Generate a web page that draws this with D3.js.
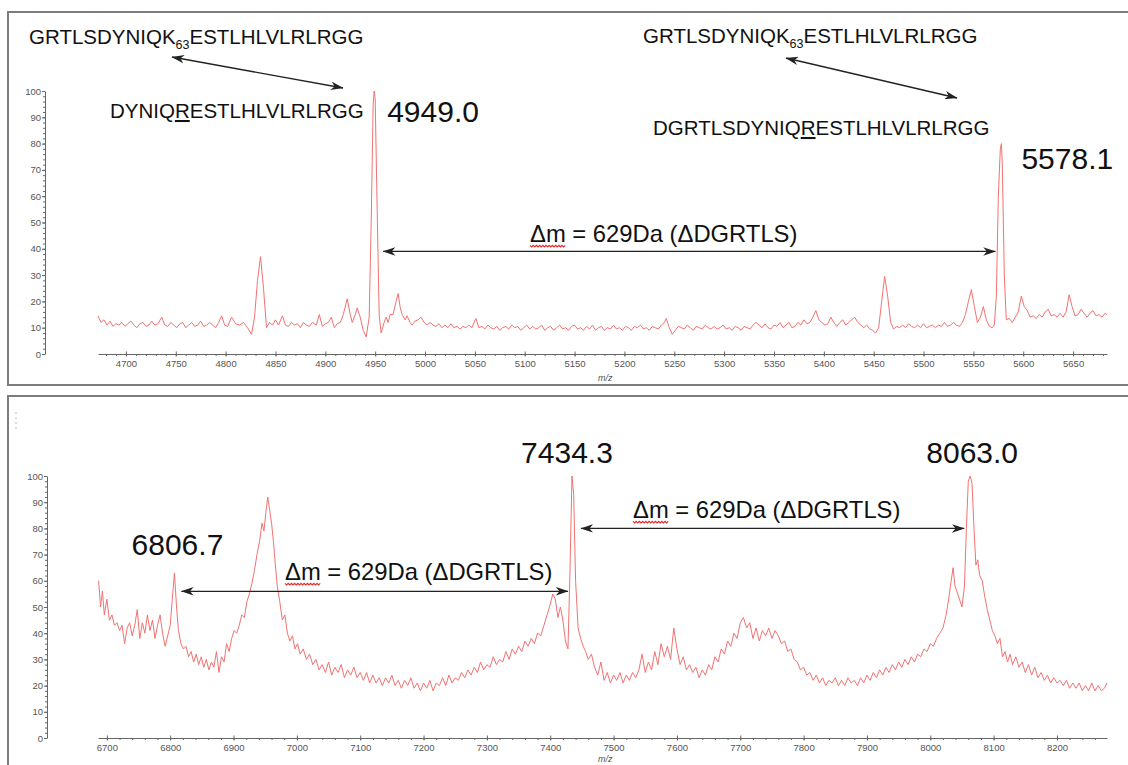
<!DOCTYPE html>
<html>
<head>
<meta charset="utf-8">
<script src="https://cdn.jsdelivr.net/npm/d3@7"></script>
<style>
  html, body { margin: 0; padding: 0; background: #fff; }
  svg { display: block; font-family: "Liberation Sans", Arial, Helvetica, sans-serif; }
</style>
</head>
<body>
<svg id="chart" width="1128" height="765"></svg>
<script>
// ---- MALDI spectra: [m/z, relative intensity %] ----
const topSpectrum = [
  [4672,14.5],[4675,12],[4678,13],[4681,11],[4684,12.5],[4687,10.5],[4690,11.5],[4693,11],[4696,12],[4699,10.5],
  [4702,11.5],[4705,12.5],[4708,11],[4711,10],[4714,11.5],[4717,12],[4720,10.5],[4723,11],[4726,12.5],[4729,11],
  [4732,11.5],[4736,14],[4739,11],[4742,10.5],[4745,12],[4748,11],[4751,10],[4754,11.5],[4757,12],[4760,10],
  [4763,11],[4766,12],[4769,10.5],[4772,11],[4775,12.5],[4778,10.5],[4781,11],[4784,12],[4787,11],[4790,10],
  [4793,12],[4796,14.5],[4799,11],[4802,10.5],[4806,14],[4810,11.5],[4814,11],[4818,12],[4822,10],[4826,7.5],
  [4829,14],[4832,28],[4835,37],[4838,25],[4841,10],[4844,12],[4847,11],[4850,13],[4853,11],[4857,14.5],
  [4860,11],[4863,10.5],[4866,12],[4869,11],[4872,11.5],[4875,10],[4878,12],[4881,11],[4884,10.5],[4887,12],
  [4891,11],[4894,15],[4897,10.5],[4900,11.5],[4903,12],[4906,14],[4909,10],[4912,11.5],[4915,12],[4918,15],
  [4922,21],[4925,15],[4927,12],[4930,15],[4932,17.5],[4935,14],[4938,9],[4941,6.5],[4944,14],[4946,50],
  [4948,95],[4949.0,100],[4950,97],[4952,55],[4954,15],[4956,8],[4959,12],[4961,14],[4963,12],[4965,15],
  [4968,15],[4971,20],[4973,23],[4975,18],[4977,15],[4980,13],[4982,14.5],[4985,12],[4987,11],[4990,12.5],
  [4993,13],[4996,14],[4999,12],[5002,11],[5005,12],[5008,11],[5011,10.5],[5014,11.5],[5017,10],[5020,11],
  [5023,10],[5026,11.5],[5029,10],[5032,10.5],[5035,9.5],[5038,10.5],[5041,10],[5044,11],[5047,10],[5051,13.5],
  [5054,10],[5057,10.5],[5060,9.5],[5063,11],[5066,10],[5069,9.5],[5072,10.5],[5075,9],[5078,10],[5081,10.5],
  [5084,9.5],[5087,11],[5090,10],[5093,10.5],[5096,9],[5099,10],[5102,11],[5105,9.5],[5108,10.5],[5111,9.5],
  [5114,10],[5117,11],[5120,9],[5123,10],[5126,10.5],[5129,9],[5132,10],[5135,11],[5138,9.5],[5141,10],
  [5144,9],[5147,10.5],[5150,11],[5153,9.5],[5156,10],[5159,9],[5162,10.5],[5165,9.5],[5168,11],[5171,9],
  [5174,10],[5177,10.5],[5180,9],[5183,10],[5186,9.5],[5189,11],[5192,9.5],[5195,10],[5198,9],[5201,10.5],
  [5204,10],[5207,9],[5210,10.5],[5213,10],[5216,11],[5219,9.5],[5222,10],[5225,9],[5228,10.5],[5231,10],
  [5234,9.5],[5237,11],[5240,12],[5242,13.5],[5245,10],[5248,7.5],[5251,9],[5254,10.5],[5257,10],[5260,9.5],
  [5263,11],[5266,10],[5269,9],[5272,10.5],[5275,10],[5278,9.5],[5281,11],[5284,10],[5287,9.5],[5290,10.5],
  [5293,9.5],[5296,10],[5299,11],[5302,9.5],[5305,10],[5308,9],[5311,10.5],[5314,10],[5317,9],[5320,10.5],
  [5323,10],[5326,9.5],[5329,11],[5332,12],[5335,11],[5338,10],[5341,11.5],[5344,10],[5347,9.5],[5350,11],
  [5353,10.5],[5356,12],[5359,10],[5362,11],[5365,12],[5368,10],[5371,10.5],[5374,12],[5377,11],[5380,13],
  [5383,11.5],[5386,12],[5389,14],[5392,16.5],[5395,13],[5398,12],[5401,11],[5404,11.5],[5407,14],[5410,12],
  [5413,10.5],[5416,12],[5419,13],[5422,11],[5425,12],[5428,13],[5431,14],[5434,12],[5437,11],[5440,10],
  [5443,11],[5446,9.5],[5449,9],[5452,8],[5455,10],[5458,20],[5461,29.5],[5464,22],[5467,12],[5470,9.5],
  [5473,10.5],[5476,10],[5479,11],[5482,10],[5485,11.5],[5488,10.5],[5491,10],[5494,11],[5497,10],[5500,11.5],
  [5503,10],[5506,10.5],[5509,11],[5512,10],[5515,11],[5518,10.5],[5521,12],[5524,10.5],[5527,11],[5530,12],
  [5533,11],[5536,10.5],[5539,12],[5542,15],[5545,20],[5548,24.5],[5551,18],[5554,12],[5557,14],[5560,18],
  [5563,13],[5566,10.5],[5569,10],[5571,11],[5573,22],[5575,60],[5577,78],[5578.1,80],[5579,72],[5581,30],
  [5583,13],[5586,13.5],[5589,12],[5592,14],[5595,16],[5598,22],[5601,18],[5604,16.5],[5607,14],[5610,14.5],
  [5613,13.5],[5616,15],[5619,14],[5622,16],[5625,17],[5628,14.5],[5631,15],[5634,14],[5637,15.5],[5640,14],
  [5643,16],[5646,22.5],[5649,18],[5652,14.5],[5655,15],[5658,17],[5661,15.5],[5664,14],[5667,15.5],[5670,16.5],
  [5673,14.5],[5676,15],[5679,14],[5682,15.5],[5684,15]
];

const bottomSpectrum = [
  [6687,60],[6690,50],[6693,56],[6696,47],[6700,53],[6704,45],[6708,47],[6712,43],[6716,44],[6720,41],
  [6724,43],[6728,36],[6732,42],[6736,44],[6740,39],[6744,43],[6748,49],[6752,38],[6756,44],[6760,40],
  [6764,47],[6768,41],[6772,45],[6776,38],[6780,43],[6784,47],[6788,40],[6792,35],[6796,39],[6800,43],
  [6803,52],[6806.7,63],[6810,50],[6813,41],[6817,36],[6821,34],[6825,35],[6829,31],[6833,33],[6837,29],
  [6841,32],[6845,28],[6849,31],[6853,27],[6857,30],[6861,26],[6865,29],[6869,27],[6873,33],[6877,25],
  [6881,31],[6885,29],[6889,36],[6893,33],[6897,38],[6901,41],[6905,40],[6909,43],[6913,47],[6917,46],
  [6921,52],[6925,55],[6929,59],[6933,64],[6937,70],[6941,75],[6945,82],[6948,79],[6951,86],[6954,92],
  [6957,87],[6960,82],[6963,75],[6966,66],[6969,58],[6973,52],[6977,45],[6981,47],[6985,40],[6989,37],
  [6993,39],[6997,34],[7001,36],[7005,32],[7010,34],[7015,30],[7020,32],[7025,28],[7030,30],[7035,26],
  [7040,28],[7045,25],[7050,29],[7055,24],[7060,27],[7065,25],[7070,28],[7075,23],[7080,26],[7085,24],
  [7090,27],[7095,23],[7100,25],[7105,22],[7110,25],[7115,21],[7120,24],[7125,21],[7130,23],[7135,20],
  [7140,23],[7145,21],[7150,24],[7155,20],[7160,22],[7165,19],[7170,22],[7175,20],[7180,23],[7185,19],
  [7190,21],[7195,18],[7200,21],[7205,19],[7210,22],[7215,18],[7220,21],[7225,20],[7230,23],[7235,20],
  [7240,24],[7245,21],[7250,23],[7255,22],[7260,25],[7265,23],[7270,26],[7275,24],[7280,27],[7285,25],
  [7290,29],[7295,26],[7300,28],[7305,27],[7310,31],[7315,28],[7320,30],[7325,29],[7330,33],[7335,30],
  [7340,34],[7345,32],[7350,35],[7355,33],[7360,37],[7365,35],[7370,38],[7375,36],[7380,40],[7385,39],
  [7390,43],[7395,47],[7400,51],[7404,55],[7408,53],[7412,46],[7416,50],[7420,45],[7424,37],[7428,34],
  [7431,62],[7434.3,100],[7437,93],[7440,60],[7444,42],[7448,38],[7452,35],[7456,33],[7460,30],[7465,32],
  [7470,27],[7475,24],[7480,29],[7485,22],[7490,25],[7495,21],[7500,24],[7505,22],[7510,25],[7515,21],
  [7520,24],[7525,22],[7530,25],[7535,23],[7540,26],[7545,32],[7550,25],[7555,29],[7560,26],[7565,33],
  [7570,28],[7575,36],[7580,31],[7585,35],[7590,30],[7595,42],[7600,34],[7605,28],[7610,31],[7615,26],
  [7620,28],[7625,25],[7630,27],[7635,23],[7640,26],[7645,24],[7650,28],[7655,26],[7660,31],[7665,29],
  [7670,34],[7675,32],[7680,37],[7685,35],[7690,40],[7695,38],[7700,44],[7705,46],[7710,42],[7715,44],
  [7720,38],[7725,42],[7730,37],[7735,41],[7740,39],[7745,42],[7750,38],[7755,41],[7760,39],[7765,36],
  [7770,37],[7775,33],[7780,34],[7785,30],[7790,29],[7795,26],[7800,27],[7805,24],[7810,25],[7815,22],
  [7820,24],[7825,21],[7830,23],[7835,20],[7840,22],[7845,21],[7850,23],[7855,20],[7860,22],[7865,20],
  [7870,23],[7875,21],[7880,22],[7885,20],[7890,23],[7895,21],[7900,24],[7905,22],[7910,25],[7915,23],
  [7920,26],[7925,24],[7930,27],[7935,25],[7940,28],[7945,26],[7950,29],[7955,27],[7960,30],[7965,28],
  [7970,31],[7975,29],[7980,32],[7985,31],[7990,34],[7995,33],[8000,36],[8005,35],[8010,38],[8015,40],
  [8020,42],[8025,47],[8029,53],[8033,60],[8036,65],[8039,58],[8042,56],[8046,53],[8050,50],[8054,58],
  [8057,80],[8060,98],[8063.0,100],[8066,97],[8069,80],[8072,66],[8075,68],[8078,62],[8082,60],[8086,54],
  [8090,49],[8094,45],[8098,41],[8102,39],[8106,36],[8110,38],[8114,31],[8118,33],[8122,29],[8126,32],
  [8130,28],[8135,31],[8140,27],[8145,29],[8150,25],[8155,28],[8160,24],[8165,27],[8170,23],[8175,25],
  [8180,22],[8185,24],[8190,21],[8195,23],[8200,21],[8205,22],[8210,20],[8215,22],[8220,19],[8225,21],
  [8230,19],[8235,21],[8240,18],[8245,20],[8250,18],[8255,21],[8260,18],[8265,20],[8270,18],[8275,19],
  [8279,21]
];

// ---- axes ----
const topMzDomain = [4672, 5684];
const bottomMzDomain = [6686, 8279];
const topTicks = [4700, 4750, 4800, 4850, 4900, 4950, 5000, 5050, 5100, 5150, 5200, 5250, 5300, 5350, 5400, 5450, 5500, 5550, 5600, 5650];
const bottomTicks = [6700, 6800, 6900, 7000, 7100, 7200, 7300, 7400, 7500, 7600, 7700, 7800, 7900, 8000, 8100, 8200];
const intensityTicks = [0, 10, 20, 30, 40, 50, 60, 70, 80, 90, 100];

// ---- annotated peaks and mass shift ----
const topPeaks = [4949.0, 5578.1];
const bottomPeaks = [6806.7, 7434.3, 8063.0];
const massShiftLabel = "Δm = 629Da (ΔDGRTLS)";

const svg = d3.select("#chart");
const defs = svg.append("defs");
defs.append("marker")
  .attr("id", "head")
  .attr("viewBox", "0 0 12 8")
  .attr("refX", 11.5).attr("refY", 4)
  .attr("markerUnits", "userSpaceOnUse")
  .attr("markerWidth", 13).attr("markerHeight", 8.5)
  .attr("orient", "auto-start-reverse")
  .append("path")
  .attr("d", "M0,0 L12,4 L0,8 L3.5,4 Z")
  .attr("fill", "#222");

// panel frames
svg.append("rect").attr("x", 8).attr("y", 12).attr("width", 1140).attr("height", 373)
  .attr("fill", "none").attr("stroke", "#7c7c7c").attr("stroke-width", 2);
svg.append("rect").attr("x", 8).attr("y", 396).attr("width", 1140).attr("height", 400)
  .attr("fill", "none").attr("stroke", "#7c7c7c").attr("stroke-width", 2);
svg.append("line").attr("x1", 16).attr("x2", 16).attr("y1", 412).attr("y2", 431)
  .attr("stroke", "#bbb").attr("stroke-width", 1).attr("stroke-dasharray", "2,3");

function drawPanel(cfg) {
  const x = d3.scaleLinear().domain(cfg.domain).range([98, 1107]);
  const y = d3.scaleLinear().domain([0, 100]).range([cfg.y0, cfg.y100]);
  const g = svg.append("g");

  // intensity axis
  g.append("g").attr("transform", `translate(${cfg.yAxisX},0)`)
    .call(d3.axisLeft(y).tickValues(intensityTicks).tickSize(3).tickSizeOuter(0).tickPadding(1));
  g.append("g").attr("transform", `translate(${cfg.yAxisX},0)`)
    .call(d3.axisLeft(y).tickValues(d3.range(0, 101, 2)).tickSize(2).tickSizeOuter(0).tickFormat(""))
    .select(".domain").remove();

  // m/z axis
  const xa = g.append("g").attr("transform", `translate(0,${cfg.y0})`)
    .call(d3.axisBottom(x).tickValues(cfg.ticks).tickSize(3).tickSizeOuter(0).tickPadding(3.5).tickFormat(d3.format("d")));
  xa.selectAll(".tick line").attr("y1", -2.5).attr("y2", 2.5);
  g.append("g").attr("transform", `translate(0,${cfg.y0})`)
    .call(d3.axisBottom(x).tickValues(d3.range(cfg.ticks[0] - cfg.minor * 2, cfg.domain[1], cfg.minor)
      .filter(v => v >= cfg.domain[0])).tickSize(2).tickSizeOuter(0).tickFormat(""))
    .select(".domain").remove();

  g.selectAll(".domain").attr("stroke", "#666");
  g.selectAll(".tick line").attr("stroke", "#666");
  g.selectAll(".tick text").attr("fill", "#555").style("font-size", "9.5px")
    .style("font-family", "'Liberation Sans', Arial, sans-serif");

  g.append("text").attr("x", cfg.mzLabelX).attr("y", cfg.mzLabelY)
    .attr("fill", "#555").style("font-size", "9px").style("font-style", "italic").text("m/z");

  // spectrum trace
  g.append("path").datum(cfg.data)
    .attr("fill", "none").attr("stroke", "#f27272").attr("stroke-width", 1)
    .attr("stroke-linejoin", "round")
    .attr("d", d3.line().x(d => x(d[0])).y(d => y(d[1])));

  return { x, y, g };
}

function arrow(g, x1, y1, x2, y2, both) {
  const l = g.append("line").attr("x1", x1).attr("y1", y1).attr("x2", x2).attr("y2", y2)
    .attr("stroke", "#222").attr("stroke-width", 1.3).attr("marker-end", "url(#head)");
  if (both) l.attr("marker-start", "url(#head)");
}

function shiftLabel(g, x0, baseline) {
  const t = g.append("text").attr("x", x0).attr("y", baseline)
    .style("font-size", "23.8px").attr("fill", "#111").text(massShiftLabel);
  // red spell-check squiggle under "Δm"
  const w = t.node().getSubStringLength(0, 2);
  const pts = [];
  for (let i = 0; i <= Math.round(w / 1.6); i++) pts.push([x0 + i * 1.6, baseline + 3.5 + (i % 2 ? 1.4 : -0.2)]);
  g.append("path").attr("d", d3.line()(pts)).attr("fill", "none").attr("stroke", "#e02b2b").attr("stroke-width", 1.1);
}

function sequence(g, x0, baseline, parts) {
  const t = g.append("text").attr("x", x0).attr("y", baseline).style("font-size", "20.5px").attr("fill", "#111");
  parts.forEach(p => {
    const s = t.append("tspan").text(p.text);
    if (p.sub) s.style("font-size", "12.5px").attr("dy", 5);
    if (p.after) s.attr("dy", -5);
    if (p.under) s.style("text-decoration", "underline");
  });
}

// ---- upper spectrum ----
const upper = drawPanel({
  data: topSpectrum, domain: topMzDomain, ticks: topTicks, minor: 10,
  y0: 354, y100: 91, yAxisX: 45, mzLabelX: 598, mzLabelY: 381
});
const fmt = d3.format(".1f");
upper.g.append("text").attr("x", upper.x(topPeaks[0]) + 13).attr("y", upper.y(100) + 31)
  .style("font-size", "30px").attr("fill", "#111").text(fmt(topPeaks[0]));
upper.g.append("text").attr("x", upper.x(topPeaks[1]) + 20).attr("y", upper.y(80) + 25)
  .style("font-size", "30px").attr("fill", "#111").text(fmt(topPeaks[1]));
arrow(upper.g, upper.x(topPeaks[0]) + 9, upper.y(39), upper.x(topPeaks[1]) - 6, upper.y(39), true);
shiftLabel(upper.g, 530, 242);

sequence(upper.g, 29, 44, [{ text: "GRTLSDYNIQK" }, { text: "63", sub: true }, { text: "ESTLHLVLRLRGG", after: true }]);
sequence(upper.g, 110, 118, [{ text: "DYNIQ" }, { text: "R", under: true }, { text: "ESTLHLVLRLRGG" }]);
arrow(upper.g, 172, 57, 343, 88, true);
sequence(upper.g, 643, 43, [{ text: "GRTLSDYNIQK" }, { text: "63", sub: true }, { text: "ESTLHLVLRLRGG", after: true }]);
sequence(upper.g, 653, 135, [{ text: "DGRTLSDYNIQ" }, { text: "R", under: true }, { text: "ESTLHLVLRLRGG" }]);
arrow(upper.g, 786, 58, 957, 98, true);

// ---- lower spectrum ----
const lower = drawPanel({
  data: bottomSpectrum, domain: bottomMzDomain, ticks: bottomTicks, minor: 20,
  y0: 738, y100: 476, yAxisX: 47, mzLabelX: 598, mzLabelY: 762
});
lower.g.append("text").attr("x", lower.x(bottomPeaks[0]) + 3).attr("y", 555).attr("text-anchor", "middle")
  .style("font-size", "30px").attr("fill", "#111").text(fmt(bottomPeaks[0]));
lower.g.append("text").attr("x", lower.x(bottomPeaks[1]) - 5).attr("y", 463).attr("text-anchor", "middle")
  .style("font-size", "30px").attr("fill", "#111").text(fmt(bottomPeaks[1]));
lower.g.append("text").attr("x", lower.x(bottomPeaks[2]) + 2).attr("y", 463).attr("text-anchor", "middle")
  .style("font-size", "30px").attr("fill", "#111").text(fmt(bottomPeaks[2]));
arrow(lower.g, lower.x(bottomPeaks[0]) + 7, lower.y(56), lower.x(bottomPeaks[1]) - 4, lower.y(56), true);
shiftLabel(lower.g, 285, 580);
arrow(lower.g, lower.x(bottomPeaks[1]) + 9, lower.y(80), lower.x(bottomPeaks[2]) - 6, lower.y(80), true);
shiftLabel(lower.g, 633, 518);
</script>
</body>
</html>
